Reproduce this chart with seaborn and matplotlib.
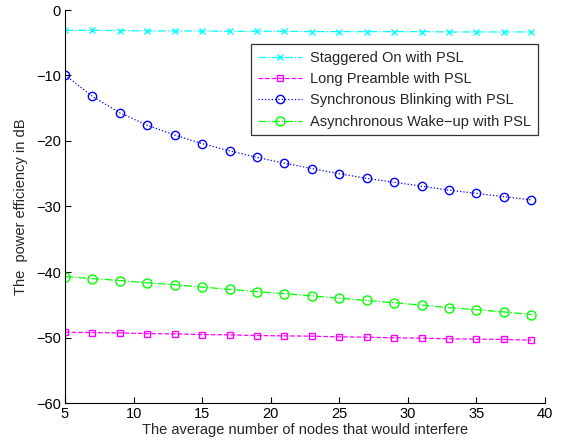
import matplotlib
matplotlib.use("Agg")
import matplotlib.pyplot as plt
import seaborn as sns
import pandas as pd

sns.set_theme(style="white")
plt.rcParams['font.family'] = ['Liberation Sans', 'DejaVu Sans']

# Dados
nodes = [5, 7, 9, 11, 13, 15, 17, 19, 21, 23, 25, 27, 29, 31, 33, 35, 37, 39]
staggered = [-3.1, -3.1, -3.15, -3.2, -3.2, -3.2, -3.25, -3.25, -3.25, -3.3, -3.3, -3.3, -3.3, -3.3, -3.35, -3.35, -3.35, -3.35]
long_preamble = [-49.2, -49.25, -49.3, -49.4, -49.45, -49.55, -49.6, -49.7, -49.75, -49.8, -49.9, -49.95, -50.05, -50.1, -50.2, -50.25, -50.3, -50.4]
sync_blink = [-9.9, -13.2, -15.7, -17.6, -19.1, -20.4, -21.5, -22.5, -23.4, -24.2, -25.0, -25.7, -26.3, -26.9, -27.5, -28.0, -28.5, -29.0]
async_wake = [-40.7, -41.0, -41.3, -41.65, -41.95, -42.3, -42.65, -43.0, -43.3, -43.65, -44.0, -44.35, -44.7, -45.05, -45.45, -45.75, -46.1, -46.5]

labels = ['Staggered On with PSL', 'Long Preamble with PSL',
          'Synchronous Blinking with PSL', 'Asynchronous Wake\u2212up with PSL']
series = [staggered, long_preamble, sync_blink, async_wake]
cores = ['#00ffff', '#ff00ff', '#0000ff', '#00ff00']
estilos = ['-.', '--', ':', '-.']
marcadores = ['x', 's', 'o', 'o']
tamanhos = [4.5, 4.8, 6, 6.5]

fig = plt.figure(figsize=(5.65, 4.44), dpi=100)
ax = fig.add_axes([65 / 565, 41 / 444, 480 / 565, 393 / 444])

for lab, vals, cor, est, mk, ms in zip(labels, series, cores, estilos, marcadores, tamanhos):
    df = pd.DataFrame({'x': nodes, 'y': vals})
    sns.lineplot(data=df, x='x', y='y', ax=ax, color=cor, linestyle=est, linewidth=0.9,
                 marker=mk, markersize=ms, markerfacecolor='none', markeredgecolor=cor,
                 markeredgewidth=1.0, label=lab)

ax.set_xlim(5, 40)
ax.set_ylim(-60, 0)
ax.set_xticks([5, 10, 15, 20, 25, 30, 35, 40])
ax.set_yticks([-60, -50, -40, -30, -20, -10, 0])
ax.set_yticklabels(['\u221260', '\u221250', '\u221240', '\u221230', '\u221220', '\u221210', '0'])
ax.tick_params(direction='in', length=4, width=0.8, labelsize=10.5, colors='black', pad=3,
               left=True, bottom=True)
for s in ['top', 'right']:
    ax.spines[s].set_visible(False)
for s in ['left', 'bottom']:
    ax.spines[s].set_color('black')
    ax.spines[s].set_linewidth(0.8)

ax.set_xlabel('The average number of nodes that would interfere', fontsize=10.5, labelpad=1)
ax.set_ylabel('The  power efficiency in dB', fontsize=10.5, labelpad=6)

leg = ax.legend(loc='upper left', bbox_to_anchor=(0.388, 0.913), fontsize=10.5, frameon=True,
                fancybox=False, edgecolor='black', borderpad=0.45, labelspacing=0.5,
                handlelength=3.0, handletextpad=0.6, borderaxespad=0)
leg.get_frame().set_linewidth(0.9)

plt.savefig('out.png', dpi=100)
plt.close()
